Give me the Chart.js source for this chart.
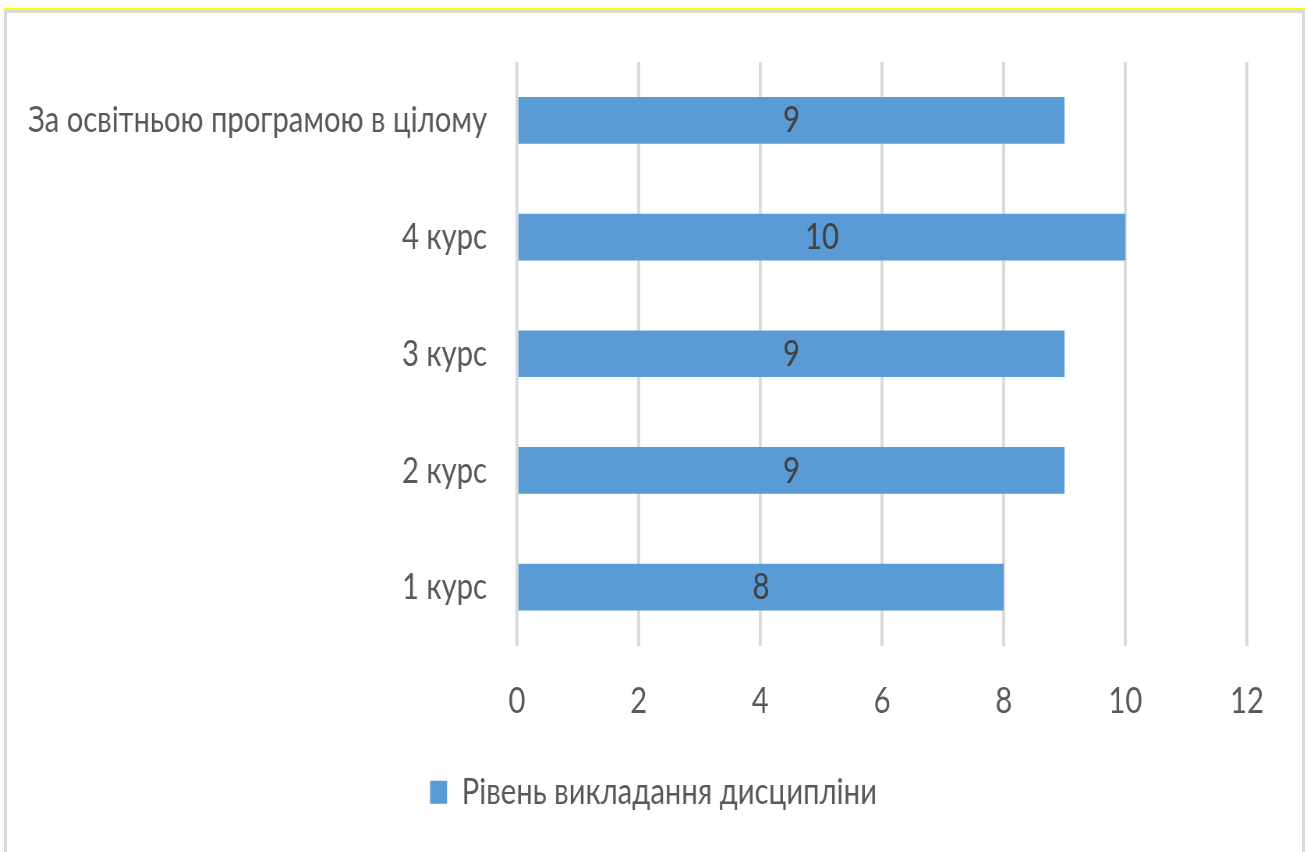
<!DOCTYPE html>
<html>
<head>
<meta charset="utf-8">
<script src="https://cdn.jsdelivr.net/npm/chart.js@4/dist/chart.umd.min.js"></script>
<style>
  body { margin: 0; background: #fff; }
  #wrap { position: relative; width: 1307px; height: 852px; overflow: hidden; }
  #yellow { position: absolute; left: 4px; top: 8px; width: 1301px; height: 2px; background: #ffff00; }
  #frame { position: absolute; left: 4px; top: 10px; width: 1295px; height: 900px;
           border: 3px solid #d9d9d9; border-bottom: none; }
  #squeeze { position: absolute; left: 0; top: 0; transform-origin: 0 0; }
</style>
</head>
<body>
<div id="wrap">
  <div id="yellow"></div>
  <div id="frame"></div>
  <div id="squeeze"><canvas id="chart"></canvas></div>
</div>
<script>
// categories and values
const categories = ['За освітньою програмою в цілому', '4 курс', '3 курс', '2 курс', '1 курс'];
const levels = [9, 10, 9, 9, 8];
const seriesName = 'Рівень викладання дисципліни';
const xTicks = [0, 2, 4, 6, 8, 10, 12];

const FONT = "Lato, 'Noto Sans', sans-serif";
const FSIZE = 37.5;
const FWEIGHT = 400;

// the original text is narrow: draw wider and squeeze the canvas horizontally
const probe = document.createElement('canvas').getContext('2d');
probe.font = FWEIGHT + ' ' + FSIZE + 'px ' + FONT;
const S = 459 / probe.measureText(categories[0]).width;
const W = Math.round(1307 / S);

const canvas = document.getElementById('chart');
canvas.width = W;
canvas.height = 852;
document.getElementById('squeeze').style.transform = 'scaleX(' + S + ')';

const barLabels = {
  id: 'barLabels',
  afterDatasetsDraw(chart) {
    const ctx = chart.ctx;
    const meta = chart.getDatasetMeta(0);
    ctx.save();
    ctx.font = FWEIGHT + ' ' + FSIZE + 'px ' + FONT;
    ctx.fillStyle = '#404040';
    ctx.textAlign = 'center';
    ctx.textBaseline = 'middle';
    meta.data.forEach((bar, i) => {
      ctx.fillText(String(levels[i]), (bar.x + bar.base) / 2, bar.y);
    });
    ctx.restore();
  }
};

const font = { family: FONT, size: FSIZE, weight: FWEIGHT };

new Chart(canvas, {
  type: 'bar',
  data: {
    labels: categories,
    datasets: [{
      label: seriesName,
      data: levels,
      backgroundColor: '#5b9bd5',
      borderWidth: 0,
      barPercentage: 0.4,
      categoryPercentage: 1
    }]
  },
  options: {
    indexAxis: 'y',
    responsive: false,
    animation: false,
    layout: { padding: { top: 62, right: 0, left: 0, bottom: 31 } },
    plugins: {
      tooltip: { enabled: false },
      legend: {
        position: 'bottom',
        labels: {
          color: '#595959',
          font: font,
          boxWidth: 17 / S,
          boxHeight: 23,
          padding: 10
        }
      }
    },
    scales: {
      x: {
        min: 0,
        max: 12,
        afterBuildTicks(scale) { scale.ticks = xTicks.map(v => ({ value: v })); },
        afterFit(scale) {
          scale.height = 118;
          scale.paddingRight = 60 / S;   // right margin of the plot, legend stays full width
        },
        grid: { color: '#d9d9d9', lineWidth: 3 / S, drawTicks: false },
        border: { display: false },
        ticks: { color: '#595959', font: font, padding: 33 }
      },
      y: {
        afterFit(scale) { scale.width = 517 / S; },
        grid: { display: false, drawTicks: false },
        border: { display: false },
        ticks: { color: '#595959', font: font, padding: 30 / S }
      }
    }
  },
  plugins: [barLabels]
});
</script>
</body>
</html>
